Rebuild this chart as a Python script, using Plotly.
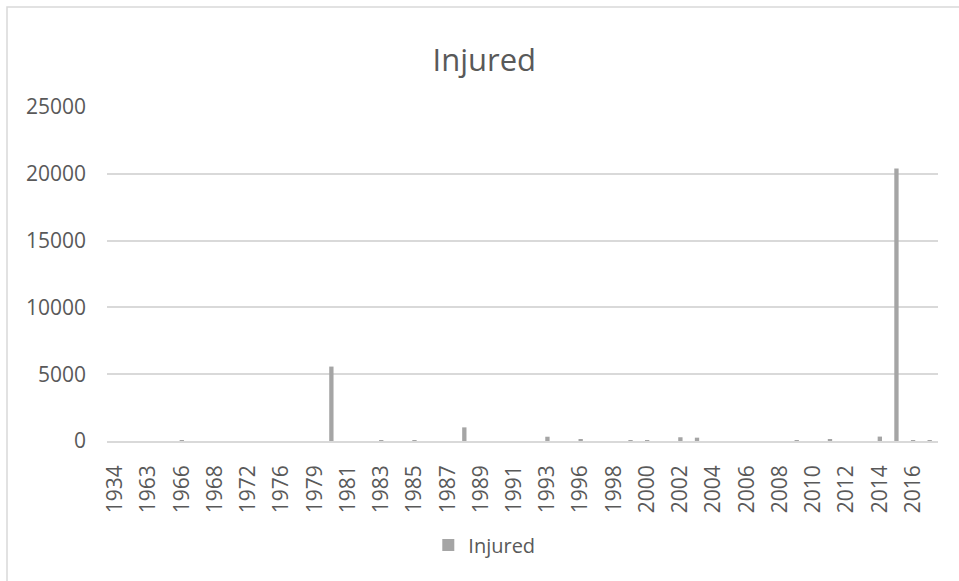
import plotly.graph_objects as go

# Years present in the data set (category axis, not continuous)
years = [
    "1934", "1960", "1963", "1965", "1966", "1967", "1968", "1970", "1972", "1974", "1976", "1978",
    "1979", "1980", "1981", "1982", "1983", "1984", "1985", "1986", "1987", "1988", "1989", "1990",
    "1991", "1992", "1993", "1995", "1996", "1997", "1998", "1999", "2000", "2001", "2002", "2003",
    "2004", "2005", "2006", "2007", "2008", "2009", "2010", "2011", "2012", "2013", "2014", "2015",
    "2016", "2017",
]

# Number of people injured per year
injured = [
    0, 0, 0, 0, 40, 0, 0, 0, 0, 0, 0, 0,
    0, 5570, 0, 0, 10, 0, 15, 0, 0, 1020, 0, 0,
    0, 0, 320, 0, 100, 0, 0, 10, 10, 0, 280, 250,
    0, 0, 0, 0, 0, 10, 0, 80, 0, 0, 330, 20400,
    50, 60,
]

y_ticks = [0, 5000, 10000, 15000, 20000, 25000]

W, H = 959, 581
L, R, T, B = 107, 21, 107, 140
pw, ph = W - L - R, H - T - B

font = "Open Sans, Lato, DejaVu Sans, sans-serif"
grey_text = "#595959"
grid = "#d9d9d9"

fig = go.Figure()
fig.add_trace(go.Bar(
    x=years, y=injured, name="Injured",
    marker=dict(color="#a5a5a5", line=dict(width=0)),
))

fig.update_layout(
    width=W, height=H,
    margin=dict(l=L, r=R, t=T, b=B, pad=0),
    paper_bgcolor="white", plot_bgcolor="white",
    font=dict(family=font, color=grey_text),
    bargap=0.74,
    title=dict(
        text="Injured", x=0.505, xanchor="center",
        y=1 - 60 / H, yanchor="middle", yref="container",
        font=dict(size=31, color=grey_text, family=font),
    ),
    showlegend=True,
    legend=dict(
        orientation="h", x=0.505, xanchor="center", xref="container",
        y=1 - 545 / H, yanchor="middle", yref="container",
        font=dict(size=20, color=grey_text, family=font),
        itemwidth=30,
    ),
    xaxis=dict(
        type="category",
        tickmode="array", tickvals=years[::2], ticktext=years[::2],
        tickangle=-90, tickfont=dict(size=21, color=grey_text),
        showgrid=False, showline=True, linecolor=grid, linewidth=1.5,
        ticks="", ticklabelstandoff=14,
        range=[-0.5, len(years) - 0.5],
    ),
    yaxis=dict(
        range=[0, 25000], tickmode="array", tickvals=y_ticks,
        ticktext=[str(v) for v in y_ticks],
        tickfont=dict(size=21, color=grey_text),
        showgrid=True, gridcolor=grid, gridwidth=1.5,
        zeroline=False, showline=False, ticks="", ticklabelstandoff=20,
    ),
    shapes=[dict(
        type="rect", xref="paper", yref="paper",
        x0=(7 - L) / pw, x1=(W + 10 - L) / pw,
        y0=1 - (H + 10 - T) / ph, y1=1 - (7 - T) / ph,
        line=dict(color=grid, width=1.5), fillcolor="rgba(0,0,0,0)", layer="below",
    )],
)

fig.write_html("out.html")
